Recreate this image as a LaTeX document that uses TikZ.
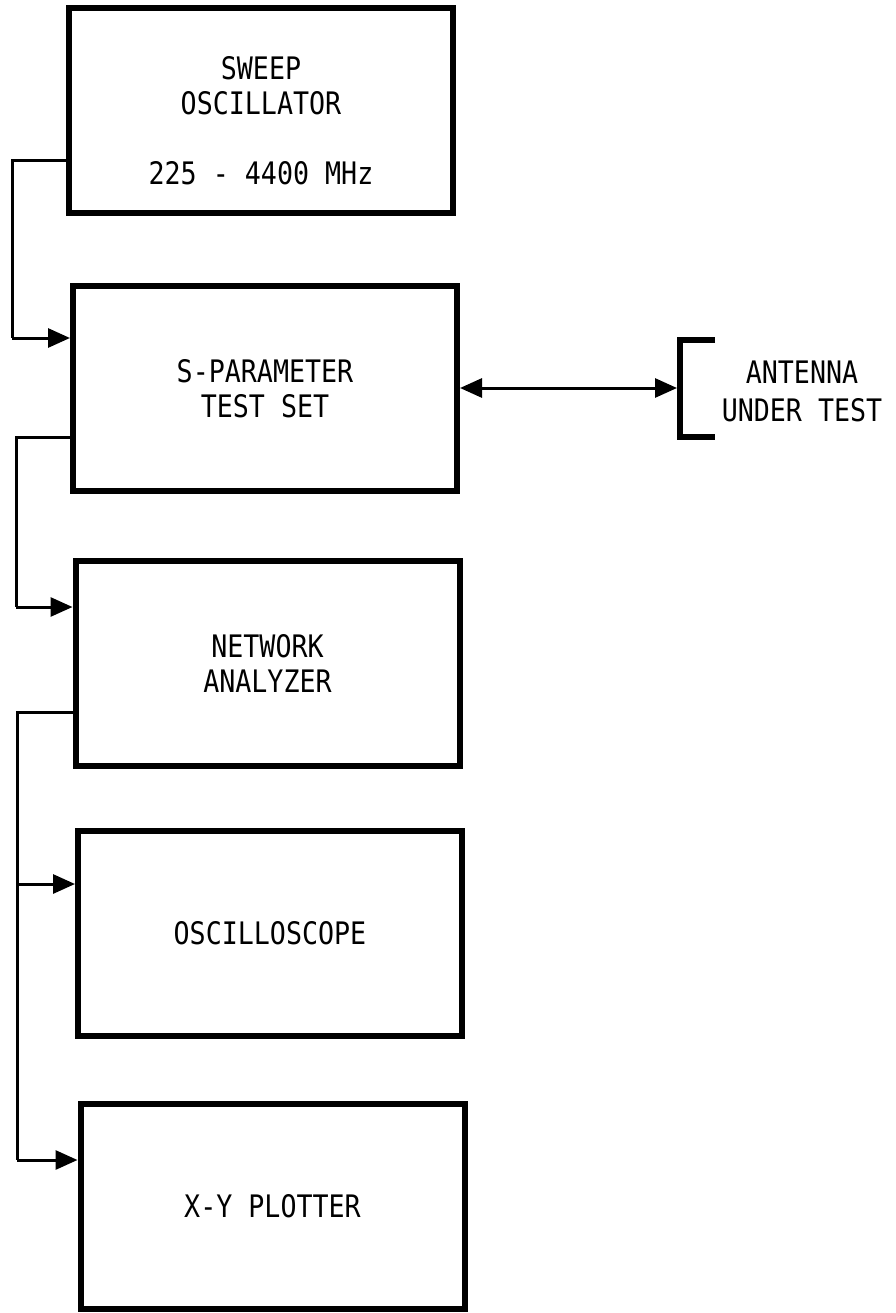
\documentclass[tikz,border=0pt]{standalone}
\usepackage{fontspec}
\newfontfamily\platefont[FakeStretch=0.86]{DejaVu Sans Mono}
\usetikzlibrary{arrows.meta}

\tikzset{
  unit/.style={draw, line width=6pt, rectangle, outer sep=0pt,
    minimum width=384pt, minimum height=205pt, align=center,
    font=\platefont\fontsize{31}{35}\selectfont},
  link/.style={line width=3pt},
  feed/.style={link, -{Triangle[length=22pt,width=19pt]}, shorten >=3pt}
}

\begin{document}
\begin{tikzpicture}[x=1pt, y=-1pt]
  \useasboundingbox (0,0) rectangle (895,1313);

  % instrument chain
  \node[unit] (sweep) at (261,110.5) {};
  \node[align=center, font=\platefont\fontsize{31}{35}\selectfont] (sweeptext)
    at ([yshift=-10pt]sweep.center) {SWEEP\\OSCILLATOR\\[35pt]225 - 4400 MHz};
  \node[unit] (param) at (265,388.5) {S-PARAMETER\\TEST SET};
  \node[unit] (network) at (267.5,663) {NETWORK\\ANALYZER};
  \node[unit] (scope) at (270,933.5) {OSCILLOSCOPE};
  \node[unit] (plotter) at (272.5,1206) {X-Y PLOTTER};

  % antenna bracket
  \coordinate (ant) at (680,388);
  \draw[line width=6pt] (715,340) -- (680,340) -- (680,437) -- (715,437);
  \node[font=\platefont\fontsize{31}{38}\selectfont, align=center] (antlabel)
    at (802,391) {ANTENNA\\UNDER TEST};

  % left side feeds
  \coordinate (tapA) at (12,161);
  \coordinate (feedA) at (12,338);
  \draw[link] (tapA -| sweep.west) -- (tapA) -- (feedA);
  \draw[feed] (feedA) -- (feedA -| param.west);

  \coordinate (tapB) at (16,437);
  \coordinate (feedB) at (16,607);
  \draw[link] (tapB -| param.west) -- (tapB) -- (feedB);
  \draw[feed] (feedB) -- (feedB -| network.west);

  \coordinate (tapC) at (17,712);
  \coordinate (feedC) at (17,884);
  \coordinate (feedD) at (17,1160);
  \draw[link] (tapC -| network.west) -- (tapC) -- (feedD);
  \draw[feed] (feedC) -- (feedC -| scope.west);
  \draw[feed] (feedD) -- (feedD -| plotter.west);

  % test port to antenna
  \draw[link, {Triangle[length=22pt,width=19pt]}-{Triangle[length=22pt,width=19pt]},
    shorten <=3pt, shorten >=3pt] (ant -| param.east) -- (ant);
\end{tikzpicture}
\end{document}
